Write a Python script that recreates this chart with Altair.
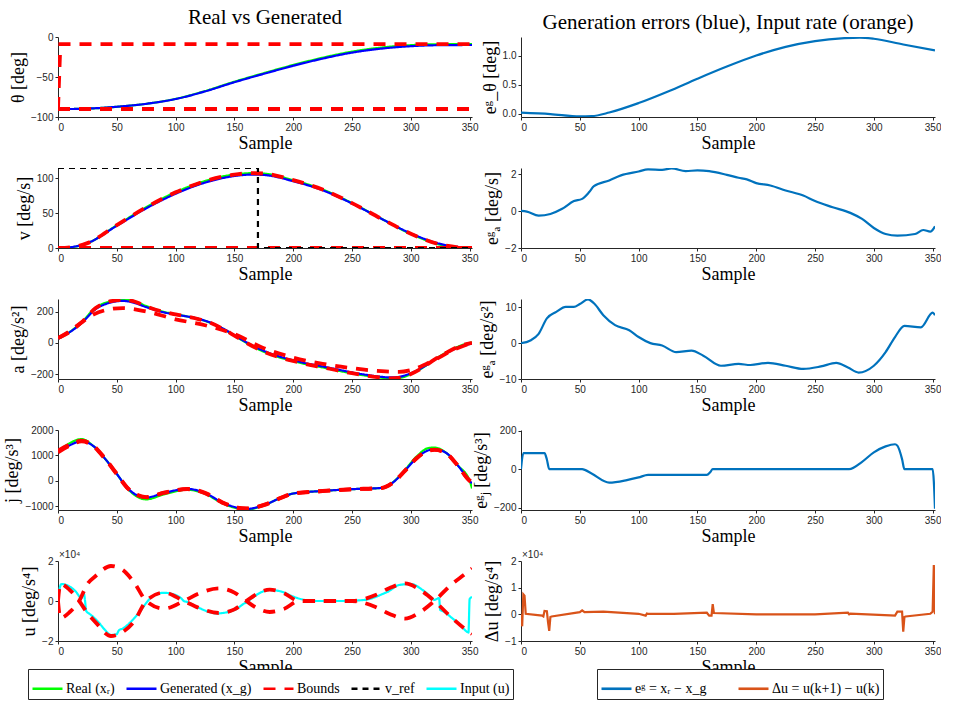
import altair as alt
import pandas as pd

SERIF = "Liberation Serif"
SANS = "Liberation Sans"
W, H = 414, 80
XMAX = 352
XTICKS = [0, 50, 100, 150, 200, 250, 300, 350]

# ---------------- left column: real vs generated ----------------
# angle theta [deg]
th_x = [0, 10, 25, 50, 75, 100, 125, 150, 175, 200, 225, 250, 275, 300, 325, 352]
th_real = [-90, -90, -89.5, -87.25, -83.5, -77.3, -67.6, -55.9, -45.2, -35, -25.9, -18.3, -13.2, -10.2, -9.0, -8.9]
th_gen = [-90, -90, -89.5, -87.2, -83.5, -77.5, -68, -56.5, -46, -36, -27, -19.5, -14.5, -11.5, -10.2, -10]
th_ub_x = [0, 2, 352]
th_ub = [-90, -9, -9]
th_lb_x = [0, 352]
th_lb = [-90, -90]

# velocity v [deg/s]
v_x = [0, 10, 25, 50, 75, 100, 125, 150, 165, 175, 200, 225, 250, 275, 300, 325, 340, 352]
v_real = [0, 0.8, 6.9, 32.7, 58.7, 80.2, 96.3, 105.7, 107.6, 107, 97.5, 84.1, 64.5, 42.1, 20.1, 4.7, 0.4, 0]
v_gen = [0, 1, 7, 32, 57, 78, 94, 103.5, 105.5, 105, 96, 83, 64, 42, 21, 6, 1.5, 0.5]
v_ub = [0, 1, 7, 33, 58.5, 80, 96, 105.5, 107.5, 107, 97.5, 84, 64.5, 42, 20.5, 5, 1, 0]
v_lb_x = [0, 352]
v_lb = [0, 0]
vref_x = [0, 170, 170, 352]
vref = [115, 115, 0, 0]

# acceleration a [deg/s^2]
a_x = [0, 10, 20, 32, 45, 55, 65, 75, 87, 100, 110, 120, 130, 140, 150, 162, 175, 187, 200, 212,
       225, 237, 250, 262, 275, 282, 290, 300, 310, 320, 330, 340, 352]
a_real = [25, 69, 131, 224, 266, 277, 265, 235, 204, 182, 168, 151, 126, 90, 46, -9, -58, -91, -118, -139,
          -158, -177, -196, -211, -224, -229, -226, -201, -160, -108, -63, -25, 3]
a_gen = [25, 68, 125, 215, 258, 268, 255, 228, 200, 180, 168, 152, 128, 92, 48, -5, -52, -85, -112, -133,
         -152, -170, -190, -205, -218, -222, -218, -195, -158, -110, -68, -30, -5]
a_bA = [30, 70, 130, 222, 266, 275, 264, 233, 203, 181, 167, 150, 126, 90, 46, -8, -57, -90, -117, -138,
        -157, -176, -195, -210, -223, -228, -225, -200, -160, -108, -64, -26, 0]
a_bB_x = [0, 10, 20, 30, 40, 55, 75, 100, 125, 150, 175, 200, 225, 250, 275, 290, 300, 320, 335, 352]
a_bB = [30, 75, 130, 180, 208, 222, 200, 150, 112, 55, -35, -95, -135, -163, -182, -186, -175, -110, -50, 0]

# jerk j [deg/s^3]
j_x = [0, 10, 20, 30, 40, 50, 60, 75, 90, 110, 125, 140, 150, 160, 175, 190, 200, 225, 250, 275,
       285, 295, 305, 315, 320, 330, 340, 350, 352]
j_real = [1150, 1483, 1643, 1370, 870, 270, -353, -730, -537, -350, -510, -890, -1060, -1140, -960, -660, -500, -400, -330, -280,
          -50, 430, 960, 1290, 1310, 1100, 600, 0, -300]
j_gen = [1150, 1400, 1560, 1370, 870, 270, -330, -660, -480, -320, -480, -860, -1030, -1110, -960, -660, -500, -400, -330, -280,
         -60, 400, 900, 1200, 1240, 1100, 600, 0, -100]
j_bA = [1120, 1380, 1550, 1360, 860, 260, -330, -650, -470, -320, -470, -850, -1030, -1100, -950, -660, -500, -400, -330, -280,
        -60, 400, 900, 1180, 1220, 1080, 600, 0, -50]
j_bB = [1180, 1430, 1580, 1390, 880, 280, -320, -640, -480, -330, -490, -870, -1040, -1090, -960, -670, -510, -410, -335, -285,
        -70, 390, 890, 1190, 1230, 1090, 590, 10, -60]

# input u [deg/s^4], in units of 1e4
u_x = [0, 1, 3, 6, 10, 15, 20, 21, 22, 23, 24, 27, 30, 35, 40, 45, 50, 51, 52, 55, 60, 65, 70, 75, 80, 90,
       100, 105, 107, 110, 120, 135, 150, 160, 162, 163, 165, 170, 180, 190, 200, 210, 220, 240, 260, 278,
       280, 290, 300, 310, 318, 320, 322, 324, 325, 327, 335, 342, 348, 349, 350, 352]
u_in = [-0.1, 0.5, 0.85, 0.82, 0.72, 0.48, 0.15, 0.3, 0.38, 0.0, -0.5, -0.65, -0.8, -1.1, -1.45, -1.7, -1.66, -1.55, -1.45, -1.38,
        -1.15, -0.85, -0.5, -0.1, 0.22, 0.41, 0.3, 0.12, 0.0, -0.05, -0.35, -0.62, -0.45, -0.08, -0.05, 0.05, 0.15, 0.35,
        0.55, 0.47, 0.22, 0.05, 0.0, 0.0, 0.05, 0.4, 0.45, 0.8, 0.85, 0.55, 0.15, 0.05, 0.1, 0.15, -0.45, -0.5, -0.85,
        -1.2, -1.55, -1.58, 0.1, 0.2]
u_b_x = [0, 2, 10, 18, 25, 32, 45, 55, 65, 75, 90, 107, 120, 137, 150, 160, 170, 180, 192, 205, 220, 250,
         270, 282, 295, 308, 320, 335, 345, 352]
u_bA = [0, 0.85, 0.55, 0, -0.6, -1.07, -1.75, -1.55, -1.0, 0, 0.42, 0, -0.35, -0.6, -0.42, 0, 0.38, 0.57, 0.4, 0, 0, 0,
        0.3, 0.65, 0.88, 0.55, 0, -0.85, -1.35, -1.65]
u_bB = [0, -0.85, -0.55, 0, 0.85, 1.25, 1.75, 1.55, 0.9, 0, -0.38, 0, 0.38, 0.63, 0.42, 0, -0.38, -0.55, -0.4, 0, 0, 0,
        -0.3, -0.65, -0.88, -0.55, 0, 0.85, 1.3, 1.62]

# ---------------- right column: generation errors and input rate ----------------
eth_x = [0, 25, 50, 60, 75, 100, 125, 150, 175, 200, 225, 250, 275, 288, 300, 325, 352]
eth = [0.015, -0.01, -0.05, -0.045, 0.017, 0.18, 0.38, 0.6, 0.81, 1.0, 1.15, 1.25, 1.30, 1.31, 1.29, 1.19, 1.09]

ev_x = [0, 5, 15, 25, 35, 45, 52, 58, 62, 75, 85, 100, 108, 120, 128, 140, 150, 160, 175, 185, 192, 200,
        212, 225, 240, 250, 265, 280, 290, 300, 310, 320, 335, 342, 348, 352]
ev = [0.02, -0.02, -0.24, -0.15, 0.13, 0.55, 0.67, 1.04, 1.36, 1.67, 1.95, 2.16, 2.27, 2.25, 2.33, 2.18, 2.22, 2.18,
      1.98, 1.82, 1.73, 1.53, 1.4, 1.13, 0.85, 0.55, 0.22, -0.09, -0.42, -0.91, -1.24, -1.33, -1.24, -1.02, -1.11, -0.82]

ea_x = [0, 8, 15, 22, 30, 38, 45, 50, 57, 62, 70, 80, 92, 100, 110, 120, 132, 145, 155, 170, 185, 195, 210,
        225, 240, 255, 268, 278, 287, 300, 310, 318, 326, 340, 350, 352]
ea = [0, 0.75, 2.6, 6.9, 8.7, 10.1, 10.1, 10.9, 12.2, 11.1, 7.8, 5.0, 3.6, 1.7, 0, -0.66, -2.5, -2.1, -3.5, -6.3,
      -5.8, -6.1, -5.5, -6.3, -7.2, -6.5, -5.5, -6.8, -8.2, -6.3, -2.5, 1.7, 4.8, 4.4, 8.5, 7.8]

ej_x = [0, 2, 20, 22, 24, 52, 60, 75, 90, 100, 108, 158, 161, 163, 279, 290, 300, 310, 318, 320, 324, 326, 350, 352]
ej = [0, 83, 83, 50, 0, 0, -23, -70, -57, -43, -30, -30, -15, 0, 0, 38, 87, 118, 129, 122, 52, 0, 0, -205]

du_x = [0, 1, 2, 3, 4, 18, 19, 20, 22, 23, 24, 25, 26, 50, 52, 54, 70, 100, 106, 107, 108, 130, 158, 160,
        162, 163, 164, 200, 250, 278, 279, 280, 314, 318, 320, 324, 325, 326, 327, 348, 350, 351, 352]
du = [0, -0.45, 0.75, 0.7, 0.02, -0.05, -0.08, 0.13, 0.12, -0.3, -0.62, -0.1, -0.08, 0.08, 0.15, 0.08, 0.1, 0.02,
      -0.05, 0.03, 0.02, 0.02, 0.06, -0.05, -0.05, 0.38, 0.05, 0.0, 0.0, 0.06, 0.0, 0.03, -0.04, -0.05, 0.1, 0.1,
      -0.65, -0.1, -0.08, 0.02, 0.1, 1.85, 0.0]

# ---------------- styling ----------------
LEFT_SERIES = ["Real (xᵣ)", "Generated (x_g)", "Bounds", "v_ref", "Input (u)"]
LEFT_COLORS = ["#00ff00", "#0000ff", "#ff0000", "#000000", "#00ffff"]
LEFT_DASH = [[1, 0], [1, 0], [12, 9], [6, 5], [1, 0]]

RIGHT_SERIES = ["eᵍ = xᵣ − x_g", "Δu = u(k+1) − u(k)"]
RIGHT_COLORS = ["#0072bd", "#d95319"]

LEFT_LEGEND = alt.Legend(title=None, orient="none", legendX=-30, legendY=632,
                         direction="horizontal", columns=5)
RIGHT_LEGEND = alt.Legend(title=None, orient="none", legendX=539, legendY=632,
                          direction="horizontal", columns=2, columnPadding=26)


def axes(ytitle, ydomain, yticks, fmt=None):
    xenc = alt.X("x:Q", scale=alt.Scale(domain=[0, XMAX], nice=False, zero=False),
                 axis=alt.Axis(values=XTICKS, title="Sample"))
    yaxis = alt.Axis(values=yticks, title=ytitle, format=fmt) if fmt else alt.Axis(values=yticks, title=ytitle)
    yenc = alt.Y("y:Q", scale=alt.Scale(domain=ydomain, nice=False, zero=False), axis=yaxis)
    return xenc, yenc


def left_line(xs, ys, name, xenc, yenc, width=2.2, interp="monotone"):
    df = pd.DataFrame({"x": xs, "y": ys, "series": name})
    return alt.Chart(df).mark_line(strokeWidth=width, interpolate=interp, clip=True).encode(
        x=xenc,
        y=yenc,
        color=alt.Color("series:N", scale=alt.Scale(domain=LEFT_SERIES, range=LEFT_COLORS),
                        legend=LEFT_LEGEND),
        strokeDash=alt.StrokeDash("series:N", scale=alt.Scale(domain=LEFT_SERIES, range=LEFT_DASH),
                                  legend=LEFT_LEGEND),
    )


def right_line(xs, ys, name, xenc, yenc, width=2.2, interp="monotone"):
    df = pd.DataFrame({"x": xs, "y": ys, "series": name})
    return alt.Chart(df).mark_line(strokeWidth=width, interpolate=interp, clip=True).encode(
        x=xenc,
        y=yenc,
        stroke=alt.Stroke("series:N", scale=alt.Scale(domain=RIGHT_SERIES, range=RIGHT_COLORS),
                          legend=RIGHT_LEGEND),
    )


def exponent_label():
    return alt.Chart(alt.Data(values=[{}])).mark_text(
        text="×10⁴", font=SANS, fontSize=10, color="#262626", align="left", baseline="bottom"
    ).encode(x=alt.value(1), y=alt.value(-1))


def panel(layers, title=None):
    ch = alt.layer(*layers).properties(width=W, height=H)
    if title:
        ch = ch.properties(title=alt.TitleParams(title, font=SERIF, fontSize=21, fontWeight="normal",
                                                 anchor="middle", frame="group", color="black", offset=4))
    return ch


# left column
xe, ye = axes("θ [deg]", [-100, 0], [-100, -50, 0])
p1 = panel([
    left_line(th_x, th_real, LEFT_SERIES[0], xe, ye),
    left_line(th_x, th_gen, LEFT_SERIES[1], xe, ye),
    left_line(th_ub_x, th_ub, LEFT_SERIES[2], xe, ye, width=3.8, interp="linear"),
    left_line(th_lb_x, th_lb, LEFT_SERIES[2], xe, ye, width=3.8, interp="linear"),
], title="Real vs Generated")

xe, ye = axes("v [deg/s]", [0, 115], [0, 50, 100])
p2 = panel([
    left_line(v_x, v_real, LEFT_SERIES[0], xe, ye),
    left_line(v_x, v_gen, LEFT_SERIES[1], xe, ye),
    left_line(v_x, v_ub, LEFT_SERIES[2], xe, ye, width=3.8),
    left_line(v_lb_x, v_lb, LEFT_SERIES[2], xe, ye, width=3.8, interp="linear"),
    left_line(vref_x, vref, LEFT_SERIES[3], xe, ye, width=2.2, interp="linear"),
])

xe, ye = axes("a [deg/s²]", [-232, 280], [-200, 0, 200])
p3 = panel([
    left_line(a_x, a_real, LEFT_SERIES[0], xe, ye),
    left_line(a_x, a_gen, LEFT_SERIES[1], xe, ye),
    left_line(a_x, a_bA, LEFT_SERIES[2], xe, ye, width=3.8),
    left_line(a_bB_x, a_bB, LEFT_SERIES[2], xe, ye, width=3.8),
])

xe, ye = axes("j [deg/s³]", [-1150, 2000], [-1000, 0, 1000, 2000], fmt="d")
p4 = panel([
    left_line(j_x, j_real, LEFT_SERIES[0], xe, ye),
    left_line(j_x, j_gen, LEFT_SERIES[1], xe, ye),
    left_line(j_x, j_bA, LEFT_SERIES[2], xe, ye, width=3.8),
    left_line(j_x, j_bB, LEFT_SERIES[2], xe, ye, width=3.8),
])

xe, ye = axes("u [deg/s⁴]", [-2, 2], [-2, 0, 2])
p5 = panel([
    left_line(u_x, u_in, LEFT_SERIES[4], xe, ye),
    left_line(u_b_x, u_bA, LEFT_SERIES[2], xe, ye, width=3.8),
    left_line(u_b_x, u_bB, LEFT_SERIES[2], xe, ye, width=3.8),
    exponent_label(),
])

# right column
xe, ye = axes("eᵍ_θ [deg]", [-0.06, 1.32], [0, 0.5, 1])
q1 = panel([right_line(eth_x, eth, RIGHT_SERIES[0], xe, ye)],
           title="Generation errors (blue), Input rate (orange)")

xe, ye = axes("eᵍₐ [deg/s]", [-2, 2.35], [-2, 0, 2])
q2 = panel([right_line(ev_x, ev, RIGHT_SERIES[0], xe, ye)])

xe, ye = axes("eᵍₐ [deg/s²]", [-10, 12.3], [-10, 0, 10])
q3 = panel([right_line(ea_x, ea, RIGHT_SERIES[0], xe, ye)])

xe, ye = axes("eᵍⱼ [deg/s³]", [-212, 203], [-200, 0, 200])
q4 = panel([right_line(ej_x, ej, RIGHT_SERIES[0], xe, ye)])

xe, ye = axes("Δu [deg/s⁴]", [-1, 2], [-1, 0, 1, 2])
q5 = panel([right_line(du_x, du, RIGHT_SERIES[1], xe, ye, interp="linear"), exponent_label()])

# rows are spaced by their plot areas, 51 px apart
left = alt.vconcat(p1, p2, p3, p4, p5, spacing=51, bounds="flush")
right = alt.vconcat(q1, q2, q3, q4, q5, spacing=51, bounds="flush")

chart = alt.hconcat(left, right, spacing=-6).properties(
    padding={"left": 3, "top": 7, "right": 0, "bottom": 0}
).configure_view(
    stroke=None
).configure_axis(
    grid=False,
    labelFont=SANS,
    labelFontSize=10,
    labelColor="#262626",
    domainColor="#262626",
    tickColor="#262626",
    tickSize=3,
    titleFont=SERIF,
    titleFontSize=18,
    titleFontWeight="normal",
    titleColor="black",
).configure_axisX(
    titlePadding=2,
    labelPadding=2,
).configure_axisY(
    titlePadding=3,
    labelPadding=2,
).configure_legend(
    strokeColor="#262626",
    fillColor="white",
    padding=3,
    labelFont=SERIF,
    labelFontSize=14,
    labelColor="black",
    labelLimit=300,
    symbolType="stroke",
    symbolSize=900,
    symbolStrokeWidth=2.6,
    columnPadding=6,
    labelOffset=2,
)

chart.save("out.html", embed_options={"renderer": "svg", "actions": False})
